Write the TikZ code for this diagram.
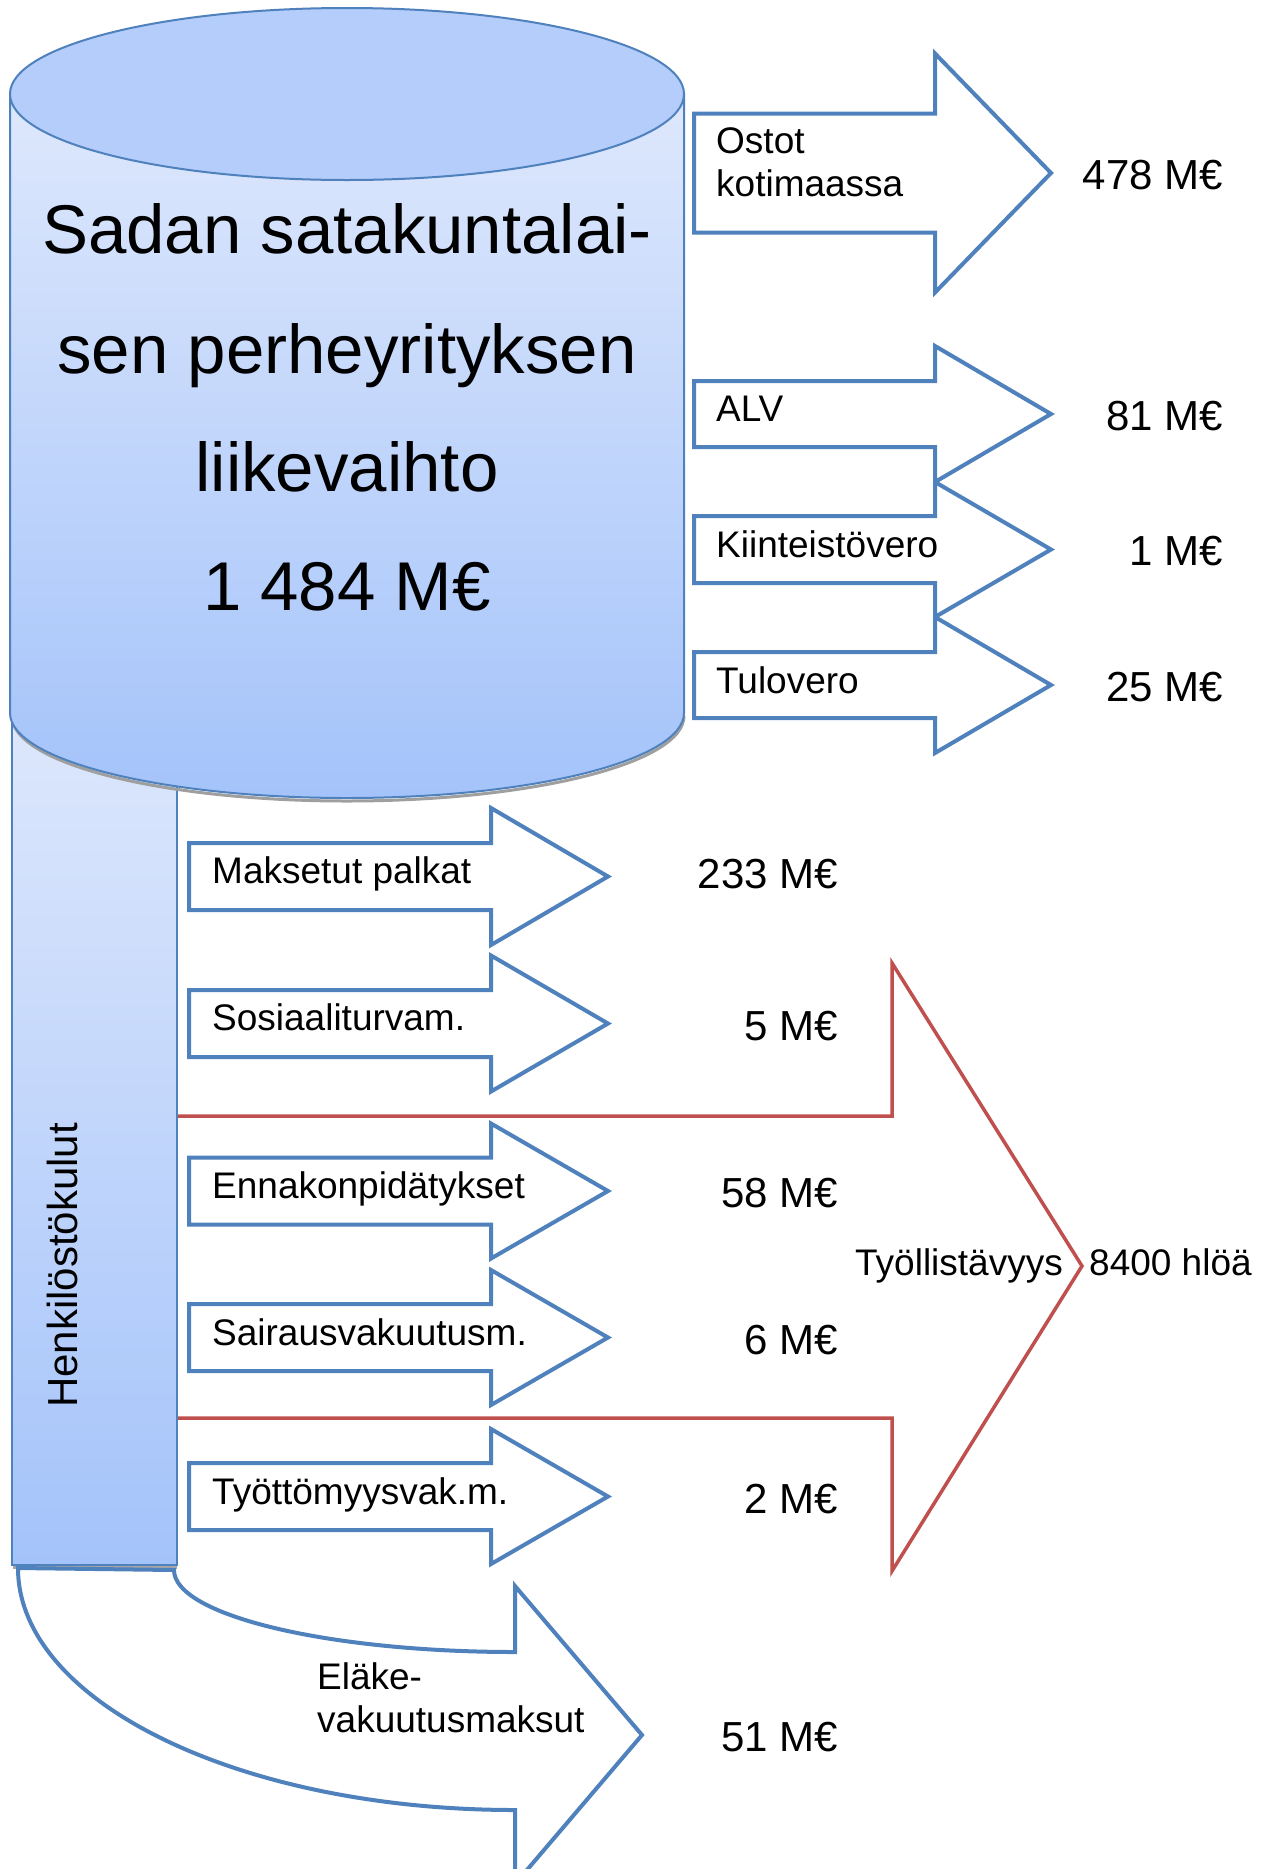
\documentclass[tikz,border=0pt]{standalone}
\usepackage{fontspec}
\setmainfont{Liberation Sans}
\definecolor{bline}{RGB}{79,129,189}
\definecolor{rline}{RGB}{192,80,77}
\definecolor{cyltop}{RGB}{180,205,251}
\definecolor{gradtop}{RGB}{222,232,252}
\definecolor{gradbot}{RGB}{164,195,250}
\newcommand\myarrow[6]{%
  \draw[blockarr] (#4,#1-#2) -- (#5,#1-#2) -- (#5,#1-#3) -- (#6,#1) -- (#5,#1+#3) -- (#5,#1+#2) -- (#4,#1+#2) -- cycle;}
\begin{document}
\begin{tikzpicture}[x=1pt,y=-1pt,
  blockarr/.style={draw=bline, line width=4pt, fill=white, line join=miter},
  redarr/.style={draw=rline, line width=3.5pt, line join=miter},
  cyltxt/.style={font=\fontsize{69}{80}\selectfont, anchor=base, inner sep=0pt},
  lbl/.style={font=\fontsize{37}{43}\selectfont, anchor=base west, inner sep=0pt},
  val/.style={font=\fontsize{42}{48}\selectfont, anchor=base east, inner sep=0pt}]
\useasboundingbox (0,0) rectangle (1268,1869);
\clip (0,0) rectangle (1268,1869);
\fill[white] (0,0) rectangle (1268,1869);

% red employment arrow
\draw[redarr] (177,1116) -- (892,1116) -- (892,963) -- (1082,1266) -- (892,1571) -- (892,1418) -- (177,1418);

% personnel cost bar
\draw[gray!70, line width=3pt] (13,1567) -- (177,1567);
\shadedraw[top color=gradtop, bottom color=gradbot, draw=bline, line width=2pt] (12,700) rectangle (177,1565);

% cylinder
\draw[gray!75, line width=3pt] (12,716) .. controls (12,763) and (161,801) .. (347,801) .. controls (533,801) and (684,763) .. (684,716);
\shadedraw[top color=gradtop, bottom color=gradbot, draw=bline, line width=2pt]
  (10,94) -- (10,713) .. controls (10,760) and (161,798) .. (347,798) .. controls (533,798) and (684,760) .. (684,713) -- (684,94) -- cycle;
\filldraw[fill=cyltop, draw=bline, line width=2pt] (347,94) ellipse [x radius=337, y radius=86];

% upper arrows
\myarrow{173}{59.5}{119.5}{694}{935}{1051}
\myarrow{414}{33}{68}{694}{935}{1051}
\myarrow{549.5}{33.5}{67.5}{694}{935}{1051}
\myarrow{685}{33}{68}{694}{935}{1051}

% lower arrows
\myarrow{876.5}{33.5}{68.5}{189}{491}{608}
\myarrow{1023.5}{33.5}{68}{189}{491}{608}
\myarrow{1191}{33.5}{67.5}{189}{491}{608}
\myarrow{1337.5}{33.5}{67.5}{189}{491}{608}
\myarrow{1496.5}{33.5}{67.5}{189}{491}{608}

% curved pension arrow
\draw[blockarr] (18,1568) .. controls (18,1702) and (240,1810) .. (515,1810) -- (515,1884) -- (642,1735) -- (515,1586) -- (515,1652) .. controls (327,1652) and (174,1615) .. (174,1570) -- cycle;

% cylinder text
\node[cyltxt] (c1) at (347,253) {Sadan satakuntalai-};
\node[cyltxt] (c2) at (347,373) {sen perheyrityksen};
\node[cyltxt] (c3) at (347,491) {liikevaihto};
\node[cyltxt] (c4) at (347,610) {1 484 M€};

% upper labels and values
\node[lbl] (ostot) at (716,153) {Ostot};
\node[lbl] (kotim) at (716,196) {kotimaassa};
\node[lbl] (alv) at (716,421) {ALV};
\node[lbl] (kiint) at (716,557) {Kiinteistövero};
\node[lbl] (tulo) at (716,693) {Tulovero};
\node[val] (v478) at (1223,189) {478 M€};
\node[val] (v81) at (1223,430) {81 M€};
\node[val] (v1) at (1223,565) {1 M€};
\node[val] (v25) at (1223,701) {25 M€};

% lower labels and values
\node[lbl] (palk) at (212,883) {Maksetut palkat};
\node[lbl] (sos) at (212,1030) {Sosiaaliturvam.};
\node[lbl] (enn) at (212,1198) {Ennakonpidätykset};
\node[lbl] (sair) at (212,1345) {Sairausvakuutusm.};
\node[lbl] (tyot) at (212,1504) {Työttömyysvak.m.};
\node[val] (v233) at (838,888) {233 M€};
\node[val] (v5) at (838,1040) {5 M€};
\node[val] (v58) at (838,1207) {58 M€};
\node[val] (v6) at (838,1354) {6 M€};
\node[val] (v2) at (838,1513) {2 M€};

\node[lbl] (elake1) at (317,1689) {Eläke-};
\node[lbl] (elake2) at (317,1732) {vakuutusmaksut};
\node[val] (v51) at (838,1751) {51 M€};

\node[lbl, anchor=base east] (tyoll) at (1063,1275) {Työllistävyys};
\node[lbl] (hloa) at (1089,1275) {8400 hlöä};

\node[font=\fontsize{42}{48}\selectfont, rotate=90, anchor=base west, inner sep=0pt] (henk) at (77,1408) {Henkilöstökulut};
\end{tikzpicture}
\end{document}
